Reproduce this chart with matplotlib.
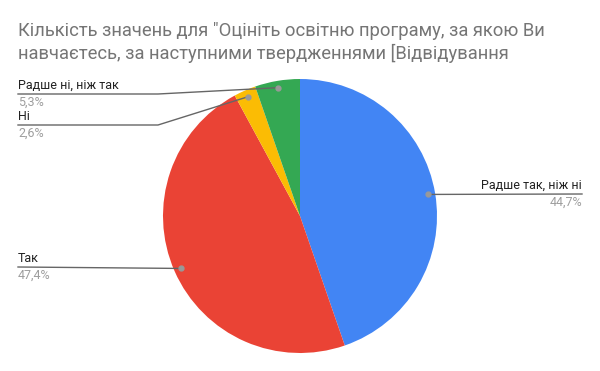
import numpy as np
import matplotlib
matplotlib.use("Agg")
import matplotlib.pyplot as plt
from matplotlib.lines import Line2D

labels = ["Радше так, ніж ні", "Так", "Ні", "Радше ні, ніж так"]
values = [44.7, 47.4, 2.6, 5.3]
pct_text = ["44,7%", "47,4%", "2,6%", "5,3%"]
colors = ["#4285F4", "#EA4335", "#FBBC04", "#34A853"]
title = ('Кількість значень для "Оцініть освітню програму, за якою Ви\n'
         'навчаєтесь, за наступними твердженнями [Відвідування')

plt.rcParams['font.family'] = ['Roboto', 'DejaVu Sans']

W, H = 600, 371
fig = plt.figure(figsize=(W / 100, H / 100), dpi=100)
cx, cy, r = 300, 216, 137
ax = fig.add_axes([(cx - r) / W, (H - cy - r) / H, 2 * r / W, 2 * r / H])
ax.pie(values, colors=colors, startangle=90, counterclock=False, radius=1,
       wedgeprops=dict(linewidth=0))
ax.set_xlim(-1, 1)
ax.set_ylim(-1, 1)
ax.set_aspect('equal')
ax.axis('off')

fig.text(18 / W, 1 - 22 / H, title, ha='left', va='top', fontsize=13.2,
         color='#757575', linespacing=1.25)

def px(x, y):
    return x / W, 1 - y / H

# dot position from slice mid angle
cum = np.cumsum([0] + values)
total = sum(values)
dots = []
for i in range(len(values)):
    mid = np.deg2rad(90 - (cum[i] + values[i] / 2) / total * 360)
    dx, dy = 0.95 * np.cos(mid), 0.95 * np.sin(mid)
    fx, fy = fig.transFigure.inverted().transform(ax.transData.transform((dx, dy)))
    dots.append((fx, fy))

# label layout: (text x, line y, align, elbow x)
layout = [
    (582, 194, 'right', None),
    (18, 267, 'left', None),
    (18, 125, 'left', 158),
    (18, 94, 'left', 158),
]
line_c = '#666666'
for i, (tx, ly, align, elbow) in enumerate(layout):
    dx, dy = dots[i]
    lx, lyf = px(tx, ly)
    if elbow is None:
        xs, ys = [lx, dx], [lyf, dy]
    else:
        ex, _ = px(elbow, ly)
        xs, ys = [lx, ex, dx], [lyf, lyf, dy]
    fig.add_artist(Line2D(xs, ys, color=line_c, lw=1, transform=fig.transFigure))
    fig.add_artist(Line2D([dx], [dy], marker='o', ms=3.5, color='#999999',
                          lw=0, transform=fig.transFigure))
    fig.text(lx, lyf + 2 / H, labels[i], ha=align, va='bottom', fontsize=9,
             color='#222222')
    fig.text(lx, lyf - 2 / H, pct_text[i], ha=align, va='top', fontsize=9,
             color='#9e9e9e')

fig.savefig("out.png", dpi=100, facecolor='white')
